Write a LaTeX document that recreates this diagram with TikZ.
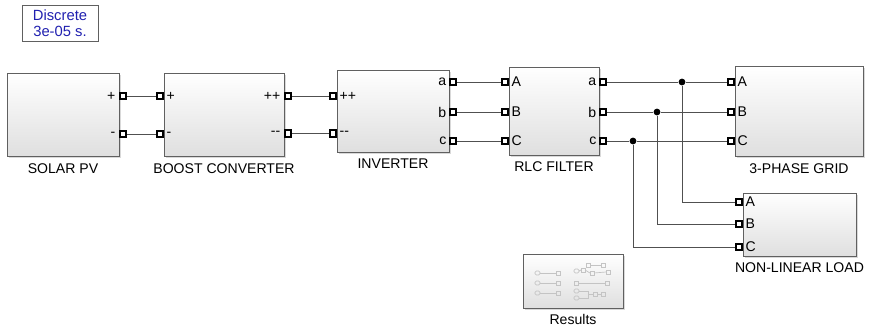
\documentclass[tikz,border=0pt]{standalone}
\usepackage{fontspec}
\setmainfont{Liberation Sans}
\usetikzlibrary{positioning,shadows}
\definecolor{wirecol}{HTML}{505050}
\definecolor{simblue}{HTML}{2020B0}
\definecolor{ghost}{HTML}{C4C4C4}

\tikzset{
  blk/.style 2 args={draw=gray!75!black, line width=0.6pt, top color=white,
    bottom color=gray!25, drop shadow={shadow xshift=1.2pt, shadow yshift=-1.2pt, opacity=0.3},
    minimum width=#1*0.025cm, minimum height=#2*0.025cm, inner sep=0pt},
  port/.style={draw=black, line width=1.5pt, fill=white, minimum size=0.17cm, inner sep=0pt},
  plbl/.style={font=\fontsize{10}{11}\selectfont, inner sep=1pt},
  blbl/.style={font=\fontsize{10}{11}\selectfont, inner sep=0pt},
  wire/.style={draw=wirecol, line width=0.6pt},
  jct/.style={circle, fill=black, minimum size=0.17cm, inner sep=0pt},
  mini/.style={draw=ghost, line width=0.5pt},
}

\begin{document}
\begin{tikzpicture}[x=0.025cm, y=-0.025cm]
  \useasboundingbox (0,0) rectangle (870,328);

  % solver block
  \node[draw=gray!75!black, line width=0.6pt, fill=white,
    drop shadow={shadow xshift=1pt, shadow yshift=-1pt, opacity=0.3},
    minimum width=1.9cm, minimum height=0.9cm, inner sep=0pt, align=center,
    text=simblue, font=\fontsize{10.5}{11}\selectfont] (disc) at (60,23) {Discrete\\3e-05 s.};

  % blocks
  \node[blk={112}{83}] (pv) at (63,114.5) {};
  \node[blk={120}{83}] (bst) at (224,114.5) {};
  \node[blk={112}{82}] (inv) at (393,111) {};
  \node[blk={90}{88}] (rlc) at (554,111) {};
  \node[blk={128}{90}] (grid) at (799,111) {};
  \node[blk={113}{63}] (load) at (799.5,224.5) {};
  \node[blk={100}{54}] (res) at (573,281) {};

  % block names
  \node[blbl, below=0.17cm of pv] (pvlbl) {SOLAR PV};
  \node[blbl, below=0.17cm of bst] (bstlbl) {BOOST CONVERTER};
  \node[blbl, below=0.15cm of inv] (invlbl) {INVERTER};
  \node[blbl, below=0.15cm of rlc] (rlclbl) {RLC FILTER};
  \node[blbl, below=0.17cm of grid] (gridlbl) {3-PHASE GRID};
  \node[blbl, below=0.15cm of load] (loadlbl) {NON-LINEAR LOAD};
  \node[blbl, below=0.15cm of res] (reslbl) {Results};

  % ports
  \node[port] (pvp) at (123,96) {};
  \node[port] (pvn) at (123,134) {};
  \node[port] (bstpi) at (160,96) {};
  \node[port] (bstni) at (160,134) {};
  \node[port] (bstpo) at (288,96) {};
  \node[port] (bstno) at (288,133.5) {};
  \node[port] (invpi) at (333,96) {};
  \node[port] (invni) at (333,133.5) {};
  \node[port] (inva) at (453,82) {};
  \node[port] (invb) at (453,112) {};
  \node[port] (invc) at (453,141) {};
  \node[port] (rlcA) at (505,82) {};
  \node[port] (rlcB) at (505,112) {};
  \node[port] (rlcC) at (505,141) {};
  \node[port] (rlca) at (603,82) {};
  \node[port] (rlcb) at (603,112) {};
  \node[port] (rlcc) at (603,141) {};
  \node[port] (gridA) at (731,82) {};
  \node[port] (gridB) at (731,112) {};
  \node[port] (gridC) at (731,141) {};
  \node[port] (loadA) at (739,202) {};
  \node[port] (loadB) at (739,224) {};
  \node[port] (loadC) at (739,247) {};

  % port labels
  \node[plbl, anchor=east] (pvplbl) at (117,96) {+};
  \node[plbl, anchor=east] (pvnlbl) at (117,134) {-};
  \node[plbl, anchor=west] (bstpilbl) at (165,96) {+};
  \node[plbl, anchor=west] (bstnilbl) at (165,134) {-};
  \node[plbl, anchor=east] (bstpolbl) at (282,96) {++};
  \node[plbl, anchor=east] (bstnolbl) at (282,133.5) {-{}-};
  \node[plbl, anchor=west] (invpilbl) at (338,96) {++};
  \node[plbl, anchor=west] (invnilbl) at (338,133.5) {-{}-};
  \node[plbl, anchor=east] (invalbl) at (448,82) {a};
  \node[plbl, anchor=east] (invblbl) at (448,112) {b};
  \node[plbl, anchor=east] (invclbl) at (448,141) {c};
  \node[plbl, anchor=west] (rlcAlbl) at (510,82) {A};
  \node[plbl, anchor=west] (rlcBlbl) at (510,112) {B};
  \node[plbl, anchor=west] (rlcClbl) at (510,141) {C};
  \node[plbl, anchor=east] (rlcalbl) at (598,82) {a};
  \node[plbl, anchor=east] (rlcblbl) at (598,112) {b};
  \node[plbl, anchor=east] (rlcclbl) at (598,141) {c};
  \node[plbl, anchor=west] (gridAlbl) at (736,82) {A};
  \node[plbl, anchor=west] (gridBlbl) at (736,112) {B};
  \node[plbl, anchor=west] (gridClbl) at (736,141) {C};
  \node[plbl, anchor=west] (loadAlbl) at (744,202) {A};
  \node[plbl, anchor=west] (loadBlbl) at (744,224) {B};
  \node[plbl, anchor=west] (loadClbl) at (744,247) {C};

  % junctions
  \node[jct] (ja) at (682,82) {};
  \node[jct] (jb) at (657,112) {};
  \node[jct] (jc) at (633,141) {};

  % wires
  \draw[wire] (pvp) -- (bstpi);
  \draw[wire] (pvn) -- (bstni);
  \draw[wire] (bstpo) -- (invpi);
  \draw[wire] (bstno) -- (invni);
  \draw[wire] (inva) -- (rlcA);
  \draw[wire] (invb) -- (rlcB);
  \draw[wire] (invc) -- (rlcC);
  \draw[wire] (rlca) -- (ja) -- (gridA);
  \draw[wire] (rlcb) -- (jb) -- (gridB);
  \draw[wire] (rlcc) -- (jc) -- (gridC);
  \draw[wire] (ja) |- (loadA);
  \draw[wire] (jb) |- (loadB);
  \draw[wire] (jc) |- (loadC);

  % faded contents of results
  \foreach \yy in {273,283,293} {
    \draw[mini, rounded corners=1pt] (535,\yy-2) rectangle (540,\yy+2);
    \draw[mini] (540,\yy) -- (556,\yy);
    \draw[mini] (556,\yy-2) rectangle (560,\yy+2);
  }
  \draw[mini, rounded corners=1pt] (574,269) rectangle (579,273);
  \draw[mini] (581,268) rectangle (585,272);
  \draw[mini] (586,263) rectangle (590,267);
  \draw[mini] (590,271) rectangle (594,275);
  \draw[mini] (601,263) rectangle (605,267);
  \draw[mini] (606,270) rectangle (610,274);
  \draw[mini] (579,271) -- (581,270);
  \draw[mini] (585,270) -- (590,273);
  \draw[mini] (590,265) -- (601,265);
  \draw[mini] (594,273) -- (606,272);
  \draw[mini] (574,281) rectangle (578,285);
  \draw[mini] (578,283) -- (605,283);
  \draw[mini] (605,281) rectangle (609,285);
  \draw[mini, rounded corners=1pt] (574,289) rectangle (579,293);
  \draw[mini, rounded corners=1pt] (574,296) rectangle (579,300);
  \draw[mini] (579,291) -- (588,291) -- (588,294) -- (593,294);
  \draw[mini] (579,298) -- (588,298) -- (588,294);
  \draw[mini] (593,292) rectangle (597,296);
  \draw[mini] (597,294) -- (601,294);
  \draw[mini] (601,292) rectangle (605,296);
\end{tikzpicture}
\end{document}
